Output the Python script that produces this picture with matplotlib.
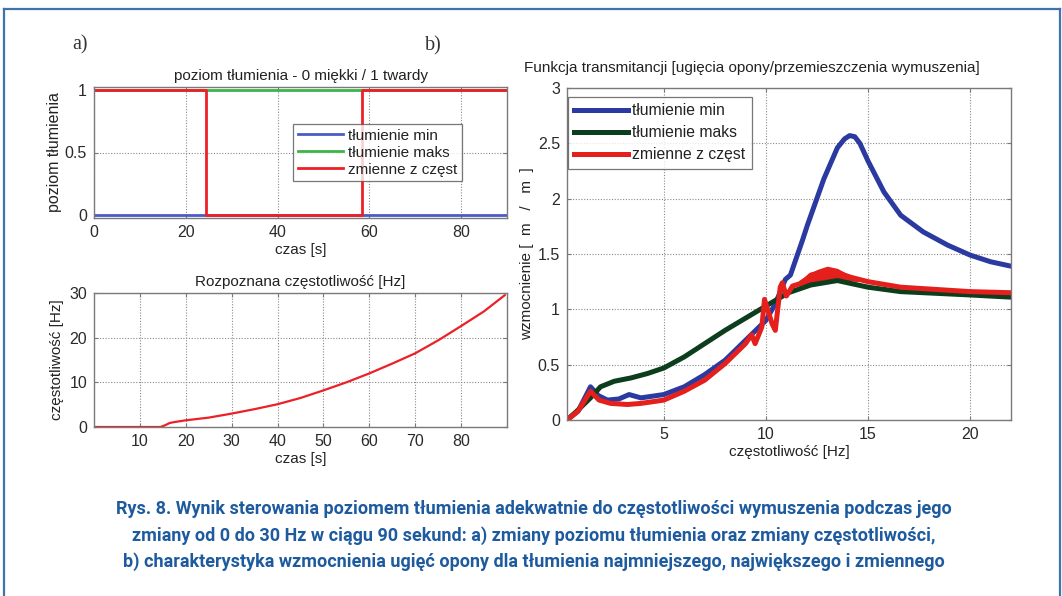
import matplotlib
matplotlib.use("Agg")
import matplotlib.pyplot as plt
from matplotlib.lines import Line2D

plt.rcParams['font.family'] = ['Liberation Sans', 'DejaVu Sans']

# ---------------- data ----------------
# a) top: damping level vs time
t_min = [0, 90]
lvl_min = [0, 0]
t_max = [0, 90]
lvl_max = [1, 1]
t_var = [0, 24.5, 24.5, 58.3, 58.3, 90]
lvl_var = [1, 1, 0, 0, 1, 1]

# a) bottom: recognised frequency vs time
t_freq = [0, 14.5, 15.5, 16.5, 17.5, 20, 25, 30, 35, 40, 45, 50, 55, 60, 65, 70, 75, 80, 85, 89.5]
freq = [0, 0, 0.4, 0.9, 1.1, 1.5, 2.1, 3.0, 4.0, 5.1, 6.5, 8.2, 10.0, 12.0, 14.2, 16.5, 19.4, 22.6, 25.9, 29.5]

# b) transmissibility
f_min = [0.26, 0.8, 1.41, 1.8, 2.24, 2.8, 3.3, 3.88, 5.0, 6.0, 7.0, 8.0, 9.0, 10.0, 10.46, 10.95,
         11.2, 11.8, 12.03, 12.84, 13.5, 13.85, 14.1, 14.35, 14.6, 15.0, 15.78, 16.6, 17.7, 18.9,
         20.0, 21.0, 22.0]
g_min = [0.0, 0.08, 0.30, 0.22, 0.18, 0.19, 0.23, 0.20, 0.23, 0.30, 0.41, 0.54, 0.72, 0.90, 1.05, 1.27,
         1.31, 1.63, 1.76, 2.18, 2.46, 2.54, 2.57, 2.56, 2.50, 2.34, 2.06, 1.85, 1.70, 1.58,
         1.49, 1.43, 1.39]

f_max = [0.26, 0.8, 1.41, 1.9, 2.57, 3.39, 4.2, 5.0, 6.0, 7.0, 8.0, 9.0, 10.0, 11.1, 12.2, 13.5,
         15.0, 16.6, 20.0, 22.0]
g_max = [0.0, 0.09, 0.20, 0.30, 0.35, 0.38, 0.42, 0.47, 0.57, 0.69, 0.81, 0.92, 1.03, 1.15, 1.22, 1.26,
         1.20, 1.16, 1.13, 1.11]

f_var = [0.26, 0.8, 1.41, 1.83, 2.4, 3.22, 3.88, 5.0, 6.0, 7.0, 8.0, 9.0, 9.3, 9.47, 9.8, 9.93,
         10.3, 10.46, 10.7, 10.8, 11.0, 11.3, 11.8, 12.2, 12.84, 13.5, 14.15, 15.0, 16.6, 20.0, 22.0]
g_var = [0.0, 0.08, 0.26, 0.18, 0.15, 0.14, 0.15, 0.18, 0.26, 0.36, 0.51, 0.69, 0.77, 0.69, 0.84, 1.09,
         0.87, 0.81, 1.20, 1.24, 1.12, 1.21, 1.24, 1.31, 1.34, 1.33, 1.29, 1.25, 1.20, 1.16, 1.15]
band_f = [11.6, 12.0, 12.5, 13.0, 13.5, 14.0, 14.5]
band_lo = [1.20, 1.22, 1.25, 1.27, 1.27, 1.26, 1.25]
band_hi = [1.26, 1.31, 1.36, 1.39, 1.37, 1.32, 1.29]

labels = ['tłumienie min', 'tłumienie maks', 'zmienne z częst']

# ---------------- figure ----------------
W, H = 1062, 596
fig = plt.figure(figsize=(W / 100, H / 100), dpi=100)
fig.patch.set_facecolor('white')

def ax_rect(x0, y0, x1, y1):
    return [x0 / W, 1 - y1 / H, (x1 - x0) / W, (y1 - y0) / H]

spine_c = '#7a7a7a'
tick_c = '#2a2a2a'
txt_c = '#222222'
grid_kw = dict(color='#8a8a8a', linestyle=(0, (1, 1.5)), linewidth=0.8)
FS = 11

def style(ax):
    for s in ax.spines.values():
        s.set_color(spine_c)
        s.set_linewidth(1.0)
    ax.tick_params(direction='in', length=3, color=spine_c, labelcolor=tick_c,
                   labelsize=11.5, top=True, right=True, pad=5)
    ax.grid(True, **grid_kw)
    ax.set_axisbelow(True)

# a) top
ax1 = fig.add_axes(ax_rect(94, 87, 507, 218))
ax1.plot(t_min, lvl_min, color='#4b5cc4', lw=2.0, label=labels[0])
ax1.plot(t_max, lvl_max, color='#3cb44b', lw=2.0, label=labels[1])
ax1.plot(t_var, lvl_var, color='#ec2027', lw=2.0, label=labels[2])
ax1.set_xlim(0, 90)
ax1.set_ylim(-0.02, 1.02)
ax1.set_xticks([0, 20, 40, 60, 80])
ax1.set_yticks([0, 0.5, 1])
ax1.set_yticklabels(['0', '0.5', '1'])
style(ax1)
ax1.set_title('poziom tłumienia - 0 miękki / 1 twardy', fontsize=FS, color=txt_c, pad=5)
ax1.set_xlabel('czas [s]', fontsize=FS, color=txt_c, labelpad=2)
ax1.set_ylabel('poziom tłumienia', fontsize=FS + 0.5, color=txt_c, labelpad=2)
leg1 = ax1.legend(loc='upper left', bbox_to_anchor=((293 - 94) / 413, 1 - (124 - 87) / 131),
                  fontsize=11, frameon=True, fancybox=False, handlelength=3.0,
                  borderpad=0.3, labelspacing=0.2, handletextpad=0.3, borderaxespad=0)
leg1.get_frame().set_edgecolor('#555555')
leg1.get_frame().set_linewidth(0.9)
for txt in leg1.get_texts():
    txt.set_color(txt_c)

# a) bottom
ax2 = fig.add_axes(ax_rect(94, 293, 507, 427))
ax2.plot(t_freq, freq, color='#ec2027', lw=1.6)
ax2.set_xlim(0, 90)
ax2.set_ylim(0, 30)
ax2.set_xticks([10, 20, 30, 40, 50, 60, 70, 80])
ax2.set_yticks([0, 10, 20, 30])
style(ax2)
ax2.set_title('Rozpoznana częstotliwość [Hz]', fontsize=FS, color=txt_c, pad=5)
ax2.set_xlabel('czas [s]', fontsize=FS, color=txt_c, labelpad=2)
ax2.set_ylabel('częstotliwość [Hz]', fontsize=FS, color=txt_c, labelpad=4)

# b)
ax3 = fig.add_axes(ax_rect(567, 88, 1011, 420))
ax3.plot(f_min, g_min, color='#2b3aa0', lw=3.6, label=labels[0], solid_joinstyle='round')
ax3.plot(f_max, g_max, color='#0c3d1c', lw=3.6, label=labels[1], solid_joinstyle='round')
ax3.plot(f_var, g_var, color='#e41f1c', lw=3.6, label=labels[2], solid_joinstyle='round')
ax3.fill_between(band_f, band_lo, band_hi, color='#e41f1c', lw=0)
ax3.set_xlim(0.26, 22)
ax3.set_ylim(0, 3)
ax3.set_xticks([5, 10, 15, 20])
ax3.set_yticks([0, 0.5, 1, 1.5, 2, 2.5, 3])
ax3.set_yticklabels(['0', '0.5', '1', '1.5', '2', '2.5', '3'])
style(ax3)
ax3.text(0.417, 1.04, 'Funkcja transmitancji [ugięcia opony/przemieszczenia wymuszenia]',
         transform=ax3.transAxes, ha='center', va='bottom', fontsize=FS, color=txt_c)
ax3.set_xlabel('częstotliwość [Hz]', fontsize=FS, color=txt_c, labelpad=2)
ax3.set_ylabel('wzmocnienie [  m   /   m  ]', fontsize=FS, color=txt_c, labelpad=3)
leg3 = ax3.legend(loc='upper left', bbox_to_anchor=((568 - 567) / 444, 1 - (97 - 88) / 332),
                  fontsize=11.3, frameon=True, fancybox=False, handlelength=3.4,
                  borderpad=0.4, labelspacing=0.45, handletextpad=0.3, borderaxespad=0)
leg3.get_frame().set_edgecolor('#555555')
leg3.get_frame().set_linewidth(0.9)
for txt in leg3.get_texts():
    txt.set_color(txt_c)

# panel letters
fig.text(80 / W, 1 - 45 / H, 'a)', fontsize=14.5, family='Liberation Serif', color='#333333',
         ha='center', va='center')
fig.text(433 / W, 1 - 46 / H, 'b)', fontsize=14.5, family='Liberation Serif', color='#333333',
         ha='center', va='center')

# caption
cap_c = '#1d5a9e'
cap_lines = [
    'Rys. 8. Wynik sterowania poziomem tłumienia adekwatnie do częstotliwości wymuszenia podczas jego',
    'zmiany od 0 do 30 Hz w ciągu 90 sekund: a) zmiany poziomu tłumienia oraz zmiany częstotliwości,',
    'b) charakterystyka wzmocnienia ugięć opony dla tłumienia najmniejszego, największego i zmiennego',
]
for i, line in enumerate(cap_lines):
    fig.text(534 / W, 1 - (509 + 26.5 * i) / H, line, fontsize=13, family='Roboto',
             fontweight='bold', color=cap_c, ha='center', va='center')

# frame border
bc = '#3f73ab'
fig.add_artist(Line2D([4 / W, 1060 / W], [1 - 9 / H, 1 - 9 / H], color=bc, lw=1.6,
                      transform=fig.transFigure))
fig.add_artist(Line2D([4 / W, 4 / W], [1 - 9 / H, 0], color=bc, lw=1.6, transform=fig.transFigure))
fig.add_artist(Line2D([1060 / W, 1060 / W], [1 - 9 / H, 0], color=bc, lw=1.6,
                      transform=fig.transFigure))

fig.savefig('out.png', dpi=100, facecolor='white')
